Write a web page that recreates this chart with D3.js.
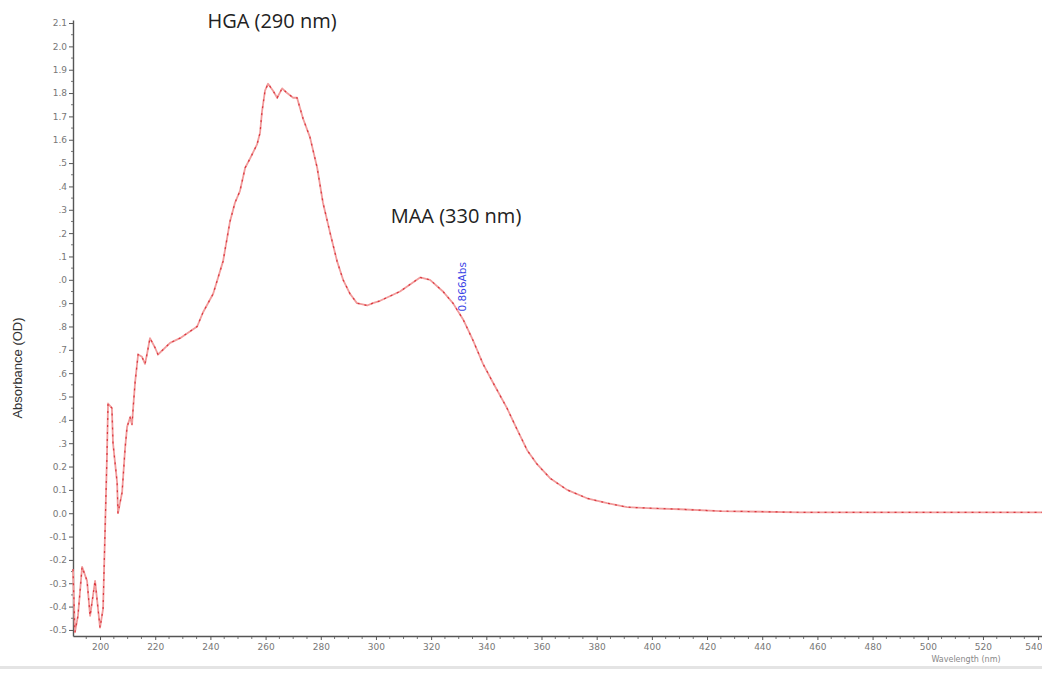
<!DOCTYPE html>
<html>
<head>
<meta charset="utf-8">
<script src="https://cdn.jsdelivr.net/npm/d3@7"></script>
<style>
  body { margin: 0; background: #fff; }
  svg { display: block; }
</style>
</head>
<body>
<div id="chart"></div>
<script>
// spectrum: wavelength (nm) and absorbance (OD)
const wavelength = [190.2, 190.9, 192.0, 193.5, 195.3, 196.4, 198.2, 200.0, 201.1, 202.5,
    202.9, 204.3, 204.7, 206.2, 206.5, 208.0, 209.1, 209.8, 210.9, 211.6,
    212.0, 212.7, 213.8, 215.2, 216.3, 217.0, 218.1, 219.9, 221.0, 225.4,
    229.0, 235.2, 237.3, 241.0, 244.6, 247.1, 248.9, 250.7, 252.6, 254.4,
    256.9, 258.0, 258.7, 259.8, 260.9, 262.7, 264.2, 266.0, 267.8, 270.0,
    271.4, 273.6, 276.1, 278.7, 280.8, 283.4, 285.9, 288.1, 290.6, 293.1,
    296.8, 298.9, 301.5, 308.7, 316.0, 319.6, 324.3, 327.9, 331.6, 335.2,
    338.8, 342.4, 347.5, 351.1, 354.8, 358.4, 363.1, 369.3, 376.5, 383.8,
    391.0, 400.4, 410.2, 424.7, 453.7, 541.4];
const absorbance = [-0.24, -0.51, -0.44, -0.23, -0.29, -0.44, -0.29, -0.49, -0.41, 0.24,
    0.47, 0.45, 0.30, 0.13, 0.00, 0.09, 0.28, 0.37, 0.41, 0.38,
    0.45, 0.56, 0.68, 0.67, 0.64, 0.68, 0.75, 0.71, 0.68, 0.73,
    0.75, 0.80, 0.86, 0.94, 1.08, 1.25, 1.33, 1.38, 1.48, 1.52,
    1.58, 1.63, 1.72, 1.81, 1.84, 1.81, 1.78, 1.82, 1.80, 1.78,
    1.78, 1.69, 1.61, 1.48, 1.33, 1.20, 1.08, 1.00, 0.94, 0.90,
    0.89, 0.90, 0.91, 0.95, 1.01, 1.00, 0.95, 0.90, 0.83, 0.74,
    0.64, 0.56, 0.45, 0.36, 0.27, 0.21, 0.15, 0.10, 0.064, 0.043,
    0.026, 0.021, 0.017, 0.009, 0.004, 0.004];

const xTicks = [200, 220, 240, 260, 280, 300, 320, 340, 360, 380, 400, 420, 440, 460, 480, 500, 520, 540];
const yTicks = [-0.5, -0.4, -0.3, -0.2, -0.1, 0.0, 0.1, 0.2, 0.3, 0.4, 0.5, 0.6, 0.7, 0.8, 0.9,
    1.0, 1.1, 1.2, 1.3, 1.4, 1.5, 1.6, 1.7, 1.8, 1.9, 2.0, 2.1];
// labels as printed (the leading digit is cut off on some)
const yTickLabels = ["-0.5", "-0.4", "-0.3", "-0.2", "-0.1", "0.0", "0.1", "0.2", ".3", ".4", ".5", ".6", ".7", ".8", ".9",
    ".0", ".1", ".2", ".3", ".4", ".5", "1.6", "1.7", "1.8", "1.9", "2.0", "2.1"];

const peakLabels = [
    { text: "HGA (290 nm)", x: 272, y: 28 },
    { text: "MAA (330 nm)", x: 456, y: 223 }
];
const markerWavelength = 331.6;
const markerValue = "0.866Abs";

const width = 1042, height = 673;

const svg = d3.select("#chart").append("svg")
    .attr("width", width)
    .attr("height", height);

const x = d3.scaleLinear().domain([190.2, 541.4]).range([73, 1042]);
const y = d3.scaleLinear().domain([-0.526, 2.113]).range([636, 20]);

// bottom frame strip
svg.append("rect")
    .attr("x", 0)
    .attr("y", 666)
    .attr("width", width)
    .attr("height", 3)
    .style("fill", "#e4e4e4");

// minor ticks
const xMinor = d3.range(195, 541, 5).filter(d => d % 20 !== 0);
svg.append("g")
    .selectAll("line")
    .data(xMinor)
    .join("line")
    .attr("x1", d => x(d))
    .attr("x2", d => x(d))
    .attr("y1", 636)
    .attr("y2", 639)
    .style("stroke", "#777")
    .style("stroke-width", 1);

const yMinor = d3.range(-0.5, 2.11, 0.05).filter((d, i) => i % 2 === 1);
svg.append("g")
    .selectAll("line")
    .data(yMinor)
    .join("line")
    .attr("x1", 71)
    .attr("x2", 73)
    .attr("y1", d => y(d))
    .attr("y2", d => y(d))
    .style("stroke", "#777")
    .style("stroke-width", 1);

const xAxis = svg.append("g")
    .attr("transform", "translate(0,636)")
    .call(d3.axisBottom(x).tickValues(xTicks).tickFormat(d3.format("d")).tickSize(4).tickSizeOuter(0));

const yAxis = svg.append("g")
    .attr("transform", "translate(73,0)")
    .call(d3.axisLeft(y).tickValues(yTicks).tickFormat((d, i) => yTickLabels[i]).tickSize(4).tickSizeOuter(0));

[xAxis, yAxis].forEach(a => {
    a.select(".domain").style("stroke", "#555").style("stroke-width", 1.4);
    a.selectAll(".tick line").style("stroke", "#555");
    a.selectAll(".tick text")
        .style("font-family", "'DejaVu Sans', sans-serif")
        .style("font-size", "9px")
        .style("fill", "#777");
});
xAxis.selectAll(".tick text").attr("y", 8);
yAxis.selectAll(".tick text").attr("x", -6);
// last label sits at the right edge
xAxis.selectAll(".tick text")
    .filter(d => d === 540)
    .attr("text-anchor", "end")
    .attr("dx", 1042 - x(540));

// axis titles
svg.append("text")
    .attr("transform", "translate(22,368) rotate(-90)")
    .attr("text-anchor", "middle")
    .text("Absorbance (OD)")
    .style("font-family", "'Liberation Sans', Arial, sans-serif")
    .style("font-size", "13px")
    .style("fill", "#333");

svg.append("text")
    .attr("x", 966)
    .attr("y", 662)
    .attr("text-anchor", "middle")
    .text("Wavelength (nm)")
    .style("font-family", "'DejaVu Sans', sans-serif")
    .style("font-size", "8px")
    .style("fill", "#888");

// the spectrum
const pts = wavelength.map((w, i) => [w, absorbance[i]]);
const line = d3.line()
    .x(d => x(d[0]))
    .y(d => y(d[1]));

svg.append("path")
    .datum(pts)
    .attr("d", line)
    .style("fill", "none")
    .style("stroke", "#f19a9a")
    .style("stroke-width", 1.8)
    .style("stroke-linejoin", "round");

svg.append("path")
    .datum(pts)
    .attr("d", line)
    .style("fill", "none")
    .style("stroke", "#d9363e")
    .style("stroke-width", 1.2)
    .style("stroke-dasharray", "2,5");

// peak labels
svg.selectAll(".peak")
    .data(peakLabels)
    .join("text")
    .attr("class", "peak")
    .attr("x", d => d.x)
    .attr("y", d => d.y)
    .attr("text-anchor", "middle")
    .text(d => d.text)
    .style("font-family", "'Open Sans', sans-serif")
    .style("font-size", "20px")
    .style("fill", "#222");

// cursor readout
const mi = wavelength.indexOf(markerWavelength);
const mx = x(markerWavelength), my = y(absorbance[mi]);
svg.append("text")
    .attr("transform", `translate(${mx + 3},${my - 8}) rotate(-90)`)
    .text(markerValue)
    .style("font-family", "'DejaVu Sans', sans-serif")
    .style("font-size", "10.5px")
    .style("fill", "#3a45e6");
</script>
</body>
</html>
